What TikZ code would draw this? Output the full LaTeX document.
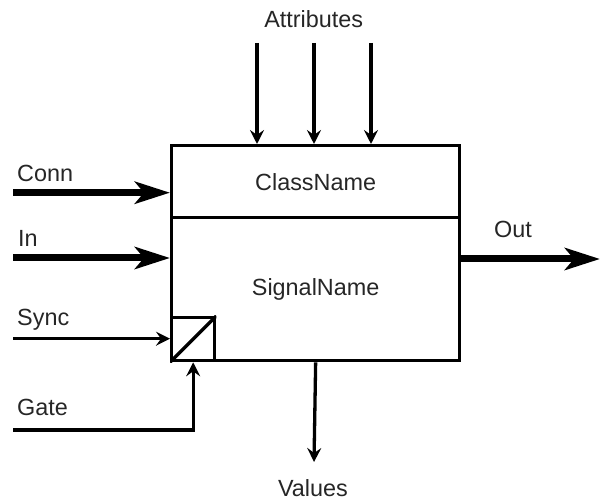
\documentclass[tikz,border=0pt]{standalone}
\usepackage{fontspec}
\setmainfont{Liberation Sans}
\usetikzlibrary{arrows.meta}
\definecolor{txt}{gray}{0.15}
\begin{document}
\begin{tikzpicture}[x=1pt,y=-1pt,
  lbl/.style={inner sep=0pt, text=txt, font=\fontsize{23.4}{28}\selectfont},
  boxpart/.style={draw, line width=3.3pt, inner sep=0pt, minimum width=288pt, anchor=north west, text=txt, font=\fontsize{23.4}{28}\selectfont},
  thickarrow/.style={line width=7pt, -{Stealth[length=35pt,width=22pt,inset=9pt]}},
  thinarrow/.style={line width=3.3pt, -{Stealth[length=14pt,width=14pt,inset=5pt]}},
  thinline/.style={line width=3.3pt}]
\useasboundingbox (0,0) rectangle (600,502);
% main box
\node[boxpart, minimum height=72pt] (cls) at (170,144) {ClassName};
\node[boxpart, minimum height=143pt] (sig) at (170,216) {SignalName};
\node[draw, line width=3.3pt, inner sep=0pt, minimum size=43pt, anchor=south west] (gbox) at (sig.south west) {};
\begin{scope}
\clip (gbox.south west) rectangle (gbox.north east);
\draw[thinline] (gbox.south west) -- (gbox.north east);
\end{scope}
% labels
\node[lbl, anchor=base] (attr) at (313.7,28) {Attributes};
\node[lbl, anchor=base west] (conn) at (17,182) {Conn};
\node[lbl, anchor=base west] (in) at (18,247) {In};
\node[lbl, anchor=base west] (sync) at (17,326) {Sync};
\node[lbl, anchor=base west] (gate) at (17,416) {Gate};
\node[lbl, anchor=base] (out) at (513,238) {Out};
\node[lbl, anchor=base] (vals) at (313,496.5) {Values};
% free ends
\coordinate (a1) at (257,43);
\coordinate (a2) at (314,43);
\coordinate (a3) at (371,43);
\coordinate (c0) at (13,192.7);
\coordinate (i0) at (13,258);
\coordinate (s0) at (13,338.7);
\coordinate (g0) at (13,430);
\coordinate (o1) at (600,259);
\coordinate (v1) at (314,462);
% connectors
\draw[thinarrow] (a1) -- (a1 |- cls.north);
\draw[thinarrow] (a2) -- (a2 |- cls.north);
\draw[thinarrow] (a3) -- (a3 |- cls.north);
\draw[thickarrow] (c0) -- (c0 -| cls.west);
\draw[thickarrow] (i0) -- (i0 -| sig.west);
\draw[thinarrow] (s0) -- (s0 -| gbox.west);
\draw[thinarrow] (g0) -| (gbox.south);
\draw[thickarrow] (sig.east |- o1) -- (o1);
\draw[thinarrow] (sig.south) -- (v1);
\end{tikzpicture}
\end{document}
